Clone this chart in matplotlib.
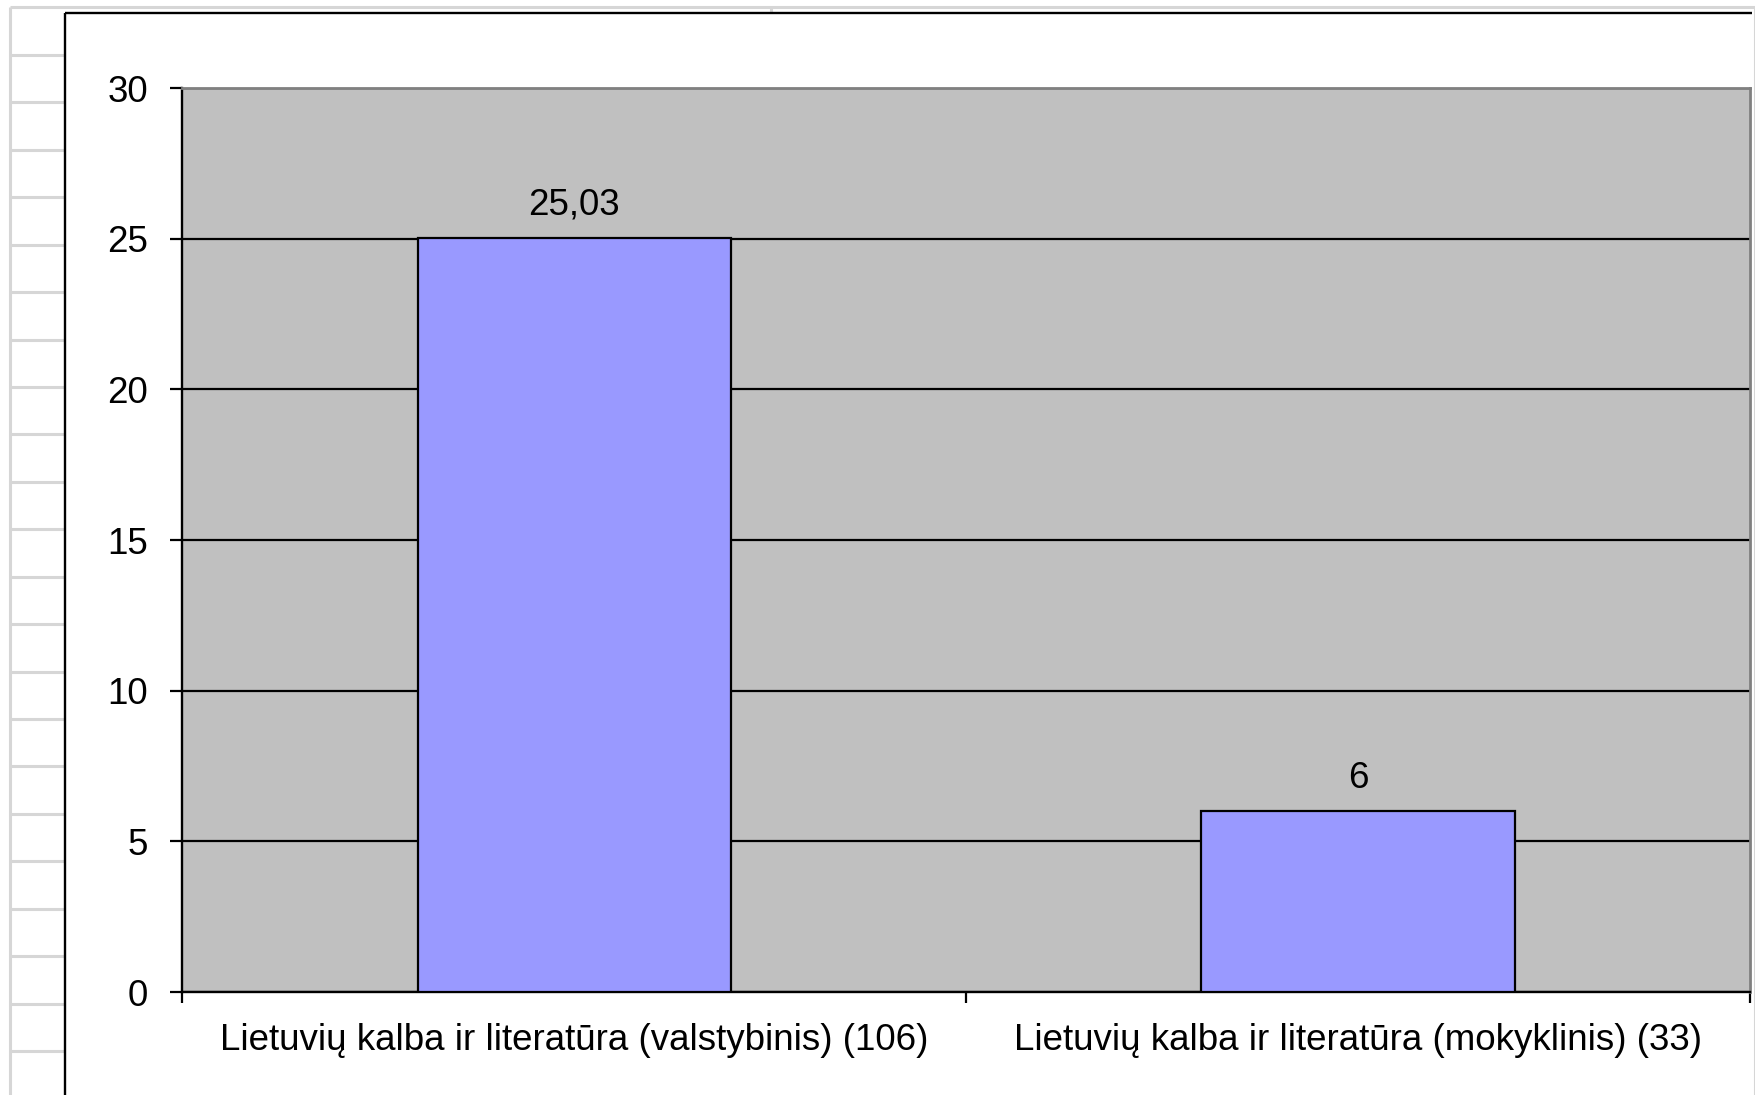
import matplotlib.pyplot as plt
from matplotlib.lines import Line2D
from matplotlib.ticker import FixedLocator

plt.rcParams['font.family'] = ['Liberation Sans', 'DejaVu Sans']

# data
categories = ["Lietuvių kalba ir literatūra (valstybinis) (106)",
              "Lietuvių kalba ir literatūra (mokyklinis) (33)"]
values = [25.03, 6]
value_labels = ["25,03", "6"]
yticks = [0, 5, 10, 15, 20, 25, 30]

W, H = 1756, 1095
fig = plt.figure(figsize=(W / 100, H / 100), dpi=100)
fig.patch.set_facecolor('white')

def px_line(x0, y0, x1, y1, color, lw):
    # line in pixel coords (y from top)
    fig.add_artist(Line2D([x0 / W, x1 / W], [1 - y0 / H, 1 - y1 / H],
                          color=color, lw=lw, transform=fig.transFigure,
                          solid_capstyle='butt', zorder=1))

# spreadsheet cells behind the chart object
grid_gray = '#d6d6d6'
px_line(10, 7, 10, H, grid_gray, 2.2)
px_line(10, 7, W, 7, grid_gray, 2.2)
px_line(771, 7, 771, 13, grid_gray, 2.2)
px_line(1755, 7, 1755, H, grid_gray, 2.2)
row = 55.0
while row < H:
    px_line(10, row, 65, row, grid_gray, 2.2)
    row += 47.43

# chart object frame (cut off at right/bottom)
px_line(65, 13, 65, H, 'black', 1.7)
px_line(65, 13, 1752, 13, 'black', 1.7)

left, right = 182.5, 1750
top, bottom = 88, 992
ax = fig.add_axes([left / W, 1 - bottom / H, (right - left) / W, (bottom - top) / H])
ax.set_zorder(5)
ax.set_facecolor('#c0c0c0')

FS = 26.5
x = list(range(len(categories)))
bars = ax.bar(x, values, width=0.4, color='#9999ff', edgecolor='black',
              linewidth=1.6, zorder=3)
for b, lab in zip(bars, value_labels):
    ax.annotate(lab, (b.get_x() + b.get_width() / 2, b.get_height()),
                xytext=(0, 11), textcoords='offset points',
                ha='center', va='bottom', fontsize=FS, color='black')

ax.set_xlim(-0.5, len(categories) - 0.5)
ax.set_ylim(0, 30)
ax.set_yticks(yticks)
ax.set_yticklabels([str(t) for t in yticks])
ax.yaxis.grid(True, color='black', lw=1.6, zorder=1)
ax.set_axisbelow(True)

ax.set_xticks(x)
ax.set_xticklabels(categories)
ax.xaxis.set_minor_locator(FixedLocator([-0.5, 0.5, 1.5]))
ax.tick_params(axis='x', which='major', length=0, pad=22, labelsize=FS)
ax.tick_params(axis='x', which='minor', length=8, width=1.6, direction='out')
ax.tick_params(axis='y', length=9, width=1.6, direction='out', pad=16, labelsize=FS)

for s in ['left', 'bottom']:
    ax.spines[s].set_color('black')
    ax.spines[s].set_linewidth(1.7)
for s in ['top', 'right']:
    ax.spines[s].set_color('#808080')
    ax.spines[s].set_linewidth(2)

fig.savefig('out.png', dpi=100)
